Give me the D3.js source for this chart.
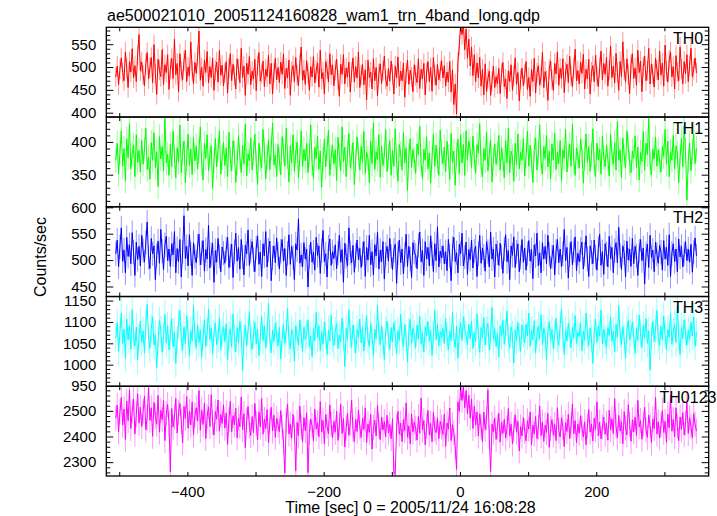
<!DOCTYPE html>
<html>
<head>
<meta charset="utf-8">
<script src="https://cdn.jsdelivr.net/npm/d3@7"></script>
<style>
  html, body { margin: 0; padding: 0; background: #fff; }
  svg { display: block; }
  text { font-family: "Liberation Sans", Arial, Helvetica, sans-serif; fill: #000; }
</style>
</head>
<body>
<svg id="chart" width="717" height="516"></svg>
<script>
// ---------------- DATA ----------------
const title = "ae500021010_20051124160828_wam1_trn_4band_long.qdp";
const xTitle = "Time [sec] 0 = 2005/11/24 16:08:28";
const yTitle = "Counts/sec";
const bands = ["TH0", "TH1", "TH2", "TH3", "TH0123"];
const colors = ["#ff0000", "#00ff00", "#0000ff", "#00ffff", "#ff00ff"];
const timeStart = -505;   // first bin centre (s)
const binSize = 2;        // bin width (s)
const xDomain = [-519, 365];
const xTickValues = [-500, -400, -300, -200, -100, 0, 100, 200, 300];
const xLabelValues = [-400, -200, 0, 200];
const yDomains = [[390.5, 587], [301, 438], [431, 601], [949.5, 1159.5], [2246, 2596]];
const yLabelTicks = [[400, 450, 500, 550], [350, 400], [450, 500, 550, 600], [950, 1000, 1050, 1100, 1150], [2300, 2400, 2500]];
const yMinorStep = [10, 10, 10, 10, 20];
const errorBars = [22, 19, 23, 33, 49];

const th0 = [
478,502,461,495,520,488,470,533,497,455,512,489,540,476,503,468,526,571,492,511,
483,459,507,532,474,498,521,466,549,485,440,517,493,479,538,462,505,488,527,451,
496,519,475,561,483,508,446,529,490,472,514,537,468,500,481,555,492,463,510,486,
523,579,471,499,458,516,488,534,465,501,477,520,449,493,511,467,536,482,504,459,
487,512,443,498,529,470,506,481,452,518,495,466,541,477,502,438,509,484,523,461,
491,474,517,448,503,532,469,486,513,457,495,479,526,463,508,441,487,519,472,499,
466,511,484,529,453,497,476,515,438,490,503,468,521,482,459,507,544,471,493,462,
514,487,449,501,478,523,465,492,509,456,537,474,488,441,512,496,467,529,483,505,
459,493,517,472,436,506,484,527,463,498,478,511,445,489,520,467,501,476,533,455,
482,506,461,494,428,515,477,489,452,518,470,499,437,486,507,464,492,524,473,458,
497,469,513,484,441,502,476,522,458,491,470,509,434,487,515,462,493,478,446,505,
481,466,518,453,495,474,508,439,487,512,468,499,447,521,483,460,506,472,491,514,
476,503,458,489,467,512,445,494,418,463,397,510,548,592,571,596,538,583,519,561,
502,544,481,527,468,509,476,521,458,495,439,507,446,475,491,438,468,502,455,479,
463,497,442,486,510,457,474,431,492,468,505,449,481,520,462,488,426,473,498,459,
484,512,451,477,436,495,468,519,443,487,503,461,478,532,455,490,470,427,496,513,
472,449,508,485,533,460,497,475,518,444,489,506,466,524,481,457,498,539,470,492,
463,511,486,528,452,495,474,517,441,489,503,468,526,480,457,499,535,472,508,484,
521,458,493,546,477,502,465,530,488,449,512,479,555,494,467,518,483,442,506,529,
475,498,460,537,488,513,446,501,524,470,492,541,463,507,485,456,519,494,472,535,
482,509,458,548,491,467,516,533,478,501,452,525,489,470,544,496,463,512,485,527,
468,503,541,479,495,520,487
];
const th1 = [
372,398,351,384,417,363,390,341,405,376,428,359,382,395,347,411,369,387,354,402,
366,389,421,358,377,343,399,372,414,361,385,332,408,374,393,356,436,368,381,349,
396,362,417,378,345,391,369,426,353,383,401,338,375,412,364,389,350,407,371,394,
359,386,423,367,342,398,375,411,356,380,394,329,371,405,362,388,417,351,376,399,
364,391,347,415,373,356,402,384,338,369,410,377,353,395,366,427,348,382,371,406,
357,383,412,369,335,398,374,361,419,387,344,376,403,358,391,429,365,380,347,396,
372,350,408,386,363,421,377,339,394,368,411,355,383,400,346,375,417,362,389,371,
398,353,381,426,367,344,392,375,409,358,386,331,373,404,362,390,418,349,377,395,
366,388,341,407,379,356,423,370,392,347,384,413,361,376,399,335,372,408,381,357,
393,369,416,352,384,375,338,401,367,429,358,385,373,411,346,394,364,380,419,355,
378,402,349,387,363,420,371,340,396,382,357,414,368,391,326,379,405,361,388,373,
352,397,381,424,366,344,389,372,408,359,383,337,376,412,363,395,371,349,418,384,
367,392,355,401,378,343,413,369,386,334,381,404,352,411,368,396,349,417,372,401,
388,361,409,375,352,396,383,428,364,347,390,372,415,356,381,403,339,374,397,366,
382,410,357,391,374,345,402,368,421,353,386,377,340,398,365,412,359,384,372,405,
348,379,416,363,395,371,338,389,406,357,382,426,368,351,393,375,410,362,386,344,
397,372,413,358,384,367,402,341,388,375,419,354,380,396,363,427,371,349,391,378,
360,404,385,337,376,412,369,393,355,381,420,366,347,398,373,389,351,409,377,362,
395,374,348,411,383,366,399,357,431,372,388,345,406,379,361,417,392,368,353,386,
375,409,361,392,342,384,370,416,357,398,381,436,365,350,389,374,407,363,388,371,
354,393,378,419,366,401,347,385,372,410,359,394,383,338,376,405,362,424,387,311,
371,398,356,385,412,367,390
];
const th2 = [
512,538,487,525,561,498,519,476,543,507,529,493,552,515,471,534,501,526,489,547,
518,496,533,572,505,484,541,512,527,463,509,536,494,558,517,482,529,545,499,521,
488,531,510,554,476,522,497,539,468,515,584,503,526,489,548,512,471,533,507,495,
527,549,491,514,537,479,520,502,566,485,511,532,458,518,496,541,507,478,525,513,
494,521,543,486,509,530,467,516,551,498,524,483,539,506,472,528,512,557,490,517,
535,501,478,523,546,492,515,469,531,508,554,487,519,536,461,504,527,495,542,511,
483,517,539,498,522,471,513,548,492,526,505,463,531,519,578,494,510,487,533,502,
521,449,507,534,496,515,481,543,509,527,475,518,556,497,512,468,525,540,490,516,
503,529,484,513,547,496,520,458,532,507,489,561,514,495,528,477,509,538,501,522,
486,512,535,469,524,500,547,491,516,472,529,508,553,483,519,497,535,464,511,526,
498,541,507,482,519,530,456,513,538,495,521,474,510,549,488,526,502,467,533,515,
509,484,528,553,497,518,471,535,502,524,489,546,512,478,531,499,563,487,517,504,
527,493,516,480,539,508,461,522,543,497,514,476,530,512,551,489,506,534,473,520,
501,538,485,517,526,469,512,547,494,523,508,479,535,516,487,553,502,521,468,530,
514,490,532,506,475,521,548,497,518,463,527,509,544,486,515,531,478,505,539,496,
523,481,512,537,498,520,465,529,508,551,489,514,476,533,502,526,493,547,511,484,
506,528,472,517,539,495,521,487,512,558,499,524,466,510,535,491,518,544,480,513,
497,520,534,483,511,546,502,469,527,515,493,538,506,481,522,549,490,516,473,531,
512,487,545,503,524,476,518,533,495,562,509,482,527,514,468,536,500,521,488,541,
493,526,508,471,517,539,499,523,455,512,530,486,547,505,519,478,534,511,494,528,
515,481,537,502,524,490,548,469,513,531,497,521,478,540,506,526,487,512,535,499,
521,496,530,477,515,542,508
];
const th3 = [
1062,1098,1031,1075,1120,1049,1083,1015,1107,1058,1091,1036,1129,1070,1044,1088,1011,1064,1102,1053,
1079,1027,1094,1141,1060,1038,1085,1112,1046,1071,993,1057,1103,1082,1029,1066,1118,1050,1091,1035,
1069,1108,1042,1076,1003,1058,1095,1127,1061,1034,1088,1049,1115,1072,1021,1080,1056,1138,1067,1040,
1093,1052,1081,1017,1064,1105,1043,1077,1130,1059,1086,1026,1071,1098,1047,1062,1110,1035,1075,1089,
1054,1096,1012,1068,1084,1041,1119,1063,1030,1087,1052,1101,1074,985,1061,1092,1045,1078,1124,1057,
1036,1072,1099,1048,1083,1021,1066,1113,1057,1090,1039,1075,1143,1062,1028,1081,1054,1097,1070,1044,
1087,1013,1061,1094,1050,1076,1131,1058,1037,1082,1069,1008,1091,1065,1046,1104,1073,1031,1088,1059,
1071,1105,1042,1067,1019,1084,1056,1122,1063,1091,1033,1077,1049,1100,1068,1024,1081,1055,1116,1062,
1045,1079,1097,1038,1070,1053,1109,1066,996,1085,1058,1129,1072,1041,1093,1060,1027,1082,1064,1107,
1051,1088,1032,1074,1115,1059,1043,1096,1068,1020,1083,1061,1138,1076,1047,1090,1055,1012,1079,1102,
1064,1036,1087,1053,1099,1071,1025,1080,1057,1118,1066,1042,1094,1063,1006,1077,1106,1050,1085,1069,
1040,1092,1061,1114,1048,1075,1030,1089,1067,1101,1054,1081,1022,1070,1127,1058,1095,1044,1078,1063,
1085,1049,1108,1066,1034,1079,1056,1123,1062,1041,1090,1015,1074,1098,1057,1112,1083,1069,1046,1094,
1061,1102,1038,1076,1054,1119,1071,1029,1087,1063,1110,1046,1080,1097,1035,1068,1134,1059,1084,1043,
1072,1018,1091,1066,1105,1048,1077,1126,1060,1039,1088,1070,1004,1082,1057,1099,1065,1031,1093,1074,
1051,1095,1067,1121,1043,1080,1058,1103,1027,1073,1090,1061,1117,1046,1085,1069,1010,1078,1100,1056,
1083,1037,1070,1109,1062,1045,1092,1131,1068,1024,1081,1055,1097,1074,1040,1088,1063,1115,1050,1076,
1066,1098,1033,1079,1057,1121,1071,1044,1086,1061,1003,1075,1106,1052,1090,1067,1128,1048,1083,1059,
1041,1087,1069,1112,1055,1078,1030,1094,1064,1137,1072,1046,1089,1060,1015,1081,1103,1058,1074,1099,
1068,1026,1085,1057,1116,1073,1040,1092,1063,1108,1050,1079,987,1066,1101,1054,1083,1127,1061,1044,
1090,1059,1114,1071,1035,1082,1065,1120,1048,1077,1096,1052,1139,1068,1023,1087,1061,1105,1074,1046,
1081,1058,1099,1067,1112,1043,1076
];
const th0123 = [
2471,2523,2418,2496,2552,2445,2507,2389,2538,2462,2581,2431,2499,2546,2410,2485,2567,2452,2514,2439,
2497,2558,2426,2475,2591,2463,2512,2401,2533,2479,2448,2560,2417,2502,2466,2540,2384,2489,2525,2452,
2262,2509,2437,2476,2548,2413,2494,2529,2458,2376,2517,2471,2556,2432,2498,2445,2535,2407,2483,2512,
2461,2579,2424,2503,2447,2531,2392,2478,2516,2439,2563,2455,2406,2497,2468,2542,2421,2486,2451,2524,
2433,2492,2369,2465,2537,2418,2481,2446,2510,2395,2472,2438,2554,2427,2489,2356,2463,2517,2441,2404,
2478,2415,2529,2452,2387,2496,2437,2548,2409,2467,2431,2505,2375,2458,2514,2422,2483,2397,2471,2446,
2419,2501,2436,2378,2258,2462,2527,2410,2448,2393,2486,2429,2266,2455,2402,2519,2437,2380,2474,2423,
2492,2259,2416,2468,2441,2383,2507,2429,2454,2399,2536,2418,2463,2372,2485,2440,2411,2523,2447,2394,
2459,2417,2498,2385,2443,2526,2412,2470,2359,2433,2491,2405,2452,2541,2427,2381,2466,2420,2503,2438,
2396,2471,2428,2512,2377,2449,2416,2487,2351,2435,2464,2402,2521,2441,2388,2476,2425,2458,2399,2483,
2414,2447,2391,2470,2258,2252,2437,2498,2409,2452,2380,2466,2423,2531,2397,2441,2371,2488,2418,2456,
2432,2386,2478,2413,2549,2425,2462,2368,2440,2502,2407,2451,2379,2494,2430,2415,2473,2392,2459,2437,
2408,2487,2362,2453,2429,2511,2384,2446,2415,2359,2272,2535,2498,2592,2541,2596,2512,2579,2488,2561,
2472,2547,2431,2518,2446,2495,2402,2489,2437,2381,2495,2428,2470,2582,2396,2263,2448,2417,2472,2389,
2436,2491,2378,2455,2412,2467,2394,2432,2509,2403,2448,2371,2426,2485,2417,2459,2344,2438,2402,2474,
2421,2383,2462,2429,2496,2367,2445,2410,2478,2392,2436,2519,2403,2457,2381,2444,2416,2490,2358,2431,
2466,2405,2447,2384,2512,2423,2398,2473,2436,2361,2454,2419,2487,2392,2441,2527,2410,2462,2376,2448,
2413,2481,2432,2398,2457,2368,2440,2505,2417,2449,2383,2471,2428,2535,2402,2456,2391,2437,2476,2409,
2452,2386,2503,2427,2469,2411,2548,2439,2395,2482,2421,2458,2372,2497,2433,2406,2524,2447,2381,2465,
2418,2476,2403,2541,2437,2462,2389,2449,2514,2426,2397,2483,2442,2375,2468,2431,2552,2410,2457,2394,
2445,2501,2416,2459,2378,2487,2434,2562,2421,2466,2399,2512,2440,2383,2476,2428,2493,2407,2451,2530,
2412,2473,2438,2396,2489,2449,2421
];
const seriesValues = [th0, th1, th2, th3, th0123];

// ---------------- LAYOUT ----------------
const plotLeft = 106.3, plotRight = 708.7, plotTop = 27.3, plotBottom = 476;
const nP = bands.length;
const pH = (plotBottom - plotTop) / nP;
const FONT = 15;

const svg = d3.select("#chart");
const x = d3.scaleLinear().domain(xDomain).range([plotLeft, plotRight]);
const fmt = d3.format("d");

svg.append("defs").selectAll("clipPath").data(bands).join("clipPath")
  .attr("id", (d, i) => "clip" + i)
  .append("rect")
  .attr("x", plotLeft).attr("width", plotRight - plotLeft)
  .attr("y", (d, i) => plotTop + i * pH).attr("height", pH);

bands.forEach((band, i) => {
  const y0 = plotTop + i * pH, y1 = y0 + pH;
  const y = d3.scaleLinear().domain(yDomains[i]).range([y1, y0]);
  const vals = seriesValues[i];
  const pts = vals.map((v, k) => ({ t: timeStart + k * binSize, v: v }));
  const err = errorBars[i];
  const g = svg.append("g");

  // data: light error bars + connecting line
  const dg = g.append("g").attr("clip-path", `url(#clip${i})`);
  dg.append("g").selectAll("line").data(pts).join("line")
    .attr("x1", d => x(d.t)).attr("x2", d => x(d.t))
    .attr("y1", d => y(d.v - err)).attr("y2", d => y(d.v + err))
    .attr("stroke", colors[i]).attr("stroke-opacity", 0.42).attr("stroke-width", 1);
  dg.append("path").datum(pts)
    .attr("d", d3.line().x(d => x(d.t)).y(d => y(d.v)))
    .attr("fill", "none").attr("stroke", colors[i]).attr("stroke-width", 1);

  // y axes (left with labels, right without)
  const lo = yDomains[i][0], hi = yDomains[i][1], st = yMinorStep[i];
  const minor = d3.range(Math.ceil(lo / st) * st, hi + 1e-9, st)
    .filter(v => !yLabelTicks[i].includes(v));
  const axL = g.append("g").attr("transform", `translate(${plotLeft},0)`)
    .call(d3.axisLeft(y).tickValues(yLabelTicks[i]).tickSize(-7).tickSizeOuter(0).tickPadding(10).tickFormat(fmt));
  axL.append("g").call(d3.axisLeft(y).tickValues(minor).tickSize(-4).tickSizeOuter(0).tickFormat(""));
  const axR = g.append("g").attr("transform", `translate(${plotRight},0)`)
    .call(d3.axisRight(y).tickValues(yLabelTicks[i]).tickSize(-7).tickSizeOuter(0).tickFormat(""));
  axR.append("g").call(d3.axisRight(y).tickValues(minor).tickSize(-4).tickSizeOuter(0).tickFormat(""));

  // x ticks top & bottom of each panel
  g.append("g").attr("transform", `translate(0,${y0})`)
    .call(d3.axisTop(x).tickValues(xTickValues).tickSize(-4).tickSizeOuter(0).tickFormat(""));
  g.append("g").attr("transform", `translate(0,${y1})`)
    .call(d3.axisBottom(x).tickValues(xTickValues).tickSize(-4).tickSizeOuter(0).tickPadding(10)
      .tickFormat(d => (i === nP - 1 && xLabelValues.includes(d)) ? fmt(d) : ""));

  g.selectAll(".domain").remove();
  g.selectAll(".tick line").attr("stroke", "#000").attr("stroke-width", 1);
  g.selectAll(".tick text").attr("font-size", FONT).attr("fill", "#000")
    .attr("font-family", '"Liberation Sans", Arial, sans-serif');

  // frame
  g.append("rect").attr("x", plotLeft).attr("y", y0).attr("width", plotRight - plotLeft).attr("height", pH)
    .attr("fill", "none").attr("stroke", "#000").attr("stroke-width", 1.3);

  // band label
  g.append("text").attr("x", 688).attr("y", y0 + 16.5)
    .attr("text-anchor", "middle").attr("font-size", 16).text(band);
});

// titles
svg.append("text").attr("x", 107).attr("y", 21).attr("font-size", 16).text(title);
svg.append("text").attr("x", (plotLeft + plotRight) / 2 + 3).attr("y", 513)
  .attr("text-anchor", "middle").attr("font-size", 16).text(xTitle);
svg.append("text").attr("transform", `translate(46,257) rotate(-90)`)
  .attr("text-anchor", "middle").attr("font-size", 16).text(yTitle);
</script>
</body>
</html>
